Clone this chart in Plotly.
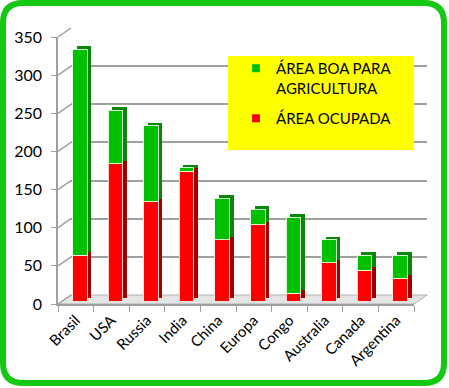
import plotly.graph_objects as go

categories = ["Brasil", "USA", "Russia", "India", "China", "Europa", "Congo", "Australia", "Canada", "Argentina"]
area_ocupada = [60, 180, 130, 170, 80, 100, 10, 50, 40, 30]
area_boa = [270, 70, 100, 5, 55, 20, 100, 30, 20, 30]
y_ticks = [0, 50, 100, 150, 200, 250, 300, 350]
Y_MAX = 350

W, H = 449, 388
FONT = "Lato"


def px(x):
    return x / W


def py(y):
    return 1 - y / H


# pixel frames (left, right, bottom, top)
back = (71, 427, 295, 28)      # back wall gridlines
front = (62, 418, 301, 34)     # front faces of bars
side = (66, 422, 298, 31)      # dark side/top faces
labels = (58, 414, 304, 37)    # front axis with labels


def dom(fr):
    return dict(x=[px(fr[0]), px(fr[1])], y=[py(fr[2]), py(fr[3])])


def yval(fr, v):
    return py(fr[2] - (fr[2] - fr[3]) * v / Y_MAX)


fig = go.Figure()

# subplot 1: back wall grid
fig.add_trace(go.Scatter(x=categories, y=[None] * len(categories), xaxis="x", yaxis="y",
                         showlegend=False, hoverinfo="skip"))
# subplot 2: dark side faces
fig.add_trace(go.Bar(x=categories, y=area_ocupada, xaxis="x2", yaxis="y2", marker_color="#a00000",
                     marker_line_width=0, showlegend=False, hoverinfo="skip"))
fig.add_trace(go.Bar(x=categories, y=area_boa, xaxis="x2", yaxis="y2", marker_color="#0b850b",
                     marker_line_width=0, showlegend=False, hoverinfo="skip"))
# subplot 3: front faces
fig.add_trace(go.Bar(x=categories, y=area_ocupada, xaxis="x3", yaxis="y3", marker_color="#ff0000",
                     marker_line=dict(color="rgba(255,230,230,0.9)", width=1), showlegend=False,
                     name="ÁREA OCUPADA"))
fig.add_trace(go.Bar(x=categories, y=area_boa, xaxis="x3", yaxis="y3", marker_color="#00c000",
                     marker_line=dict(color="rgba(230,255,230,0.9)", width=1), showlegend=False,
                     name="ÁREA BOA PARA AGRICULTURA"))
# subplot 4: label axis + legend entries
fig.add_trace(go.Scatter(x=categories, y=[None] * len(categories), xaxis="x4", yaxis="y4",
                         mode="markers", marker=dict(symbol="square", size=8, color="#00c000"),
                         name="ÁREA BOA PARA<br>AGRICULTURA", legendgroup="a", hoverinfo="skip"))
fig.add_trace(go.Scatter(x=categories, y=[None] * len(categories), xaxis="x4", yaxis="y4",
                         mode="markers", marker=dict(symbol="square", size=8, color="#ff0000"),
                         name="ÁREA OCUPADA", legendgroup="b", hoverinfo="skip"))

hidden_x = dict(type="category", categoryarray=categories, showgrid=False, showticklabels=False,
                zeroline=False, showline=False, ticks="", range=[-0.5, len(categories) - 0.5],
                automargin=False)

shapes = []
# border
x0, y0, x1, y1, r = 3, 3, 444, 383, 20
path = (f"M {px(x0 + r)},{py(y0)} L {px(x1 - r)},{py(y0)} Q {px(x1)},{py(y0)} {px(x1)},{py(y0 + r)} "
        f"L {px(x1)},{py(y1 - r)} Q {px(x1)},{py(y1)} {px(x1 - r)},{py(y1)} "
        f"L {px(x0 + r)},{py(y1)} Q {px(x0)},{py(y1)} {px(x0)},{py(y1 - r)} "
        f"L {px(x0)},{py(y0 + r)} Q {px(x0)},{py(y0)} {px(x0 + r)},{py(y0)} Z")
shapes.append(dict(type="path", xref="paper", yref="paper", path=path,
                   line=dict(color="#14c814", width=6), layer="above"))
# floor
floor = (f"M {px(labels[0])},{py(labels[2])} L {px(labels[1])},{py(labels[2])} "
         f"L {px(back[1])},{py(back[2])} L {px(back[0])},{py(back[2])} Z")
shapes.append(dict(type="path", xref="paper", yref="paper", path=floor,
                   fillcolor="#e4e4e4", line=dict(color="#b0b0b0", width=1), layer="below"))
# slanted connectors from front axis to back wall
for v in y_ticks:
    shapes.append(dict(type="line", xref="paper", yref="paper",
                       x0=px(labels[0]), y0=yval(labels, v), x1=px(back[0]), y1=yval(back, v),
                       line=dict(color="#a0a0a0", width=1.5), layer="below"))
# legend box
shapes.append(dict(type="rect", xref="paper", yref="paper", x0=px(228), x1=px(414), y0=py(150), y1=py(56),
                   fillcolor="#ffff00", line_width=0, layer="above"))

fig.update_layout(
    template="none",
    width=W, height=H, autosize=False,
    margin=dict(l=0, r=0, t=0, b=0, pad=0, autoexpand=False),
    paper_bgcolor="white", plot_bgcolor="rgba(0,0,0,0)",
    barmode="stack", bargap=0.59,
    font=dict(family=FONT, color="black"),
    xaxis=dict(domain=dom(back)["x"], **hidden_x),
    yaxis=dict(domain=dom(back)["y"], range=[0, Y_MAX], tickvals=y_ticks, showgrid=True,
               gridcolor="#a0a0a0", gridwidth=1.5, showticklabels=False, zeroline=False, ticks="",
               showline=False, automargin=False),
    xaxis2=dict(domain=dom(side)["x"], anchor="y2", **hidden_x),
    yaxis2=dict(domain=dom(side)["y"], anchor="x2", range=[0, Y_MAX], showgrid=False,
                showticklabels=False, zeroline=False, ticks="", showline=False, automargin=False),
    xaxis3=dict(domain=dom(front)["x"], anchor="y3", **hidden_x),
    yaxis3=dict(domain=dom(front)["y"], anchor="x3", range=[0, Y_MAX], showgrid=False,
                showticklabels=False, zeroline=False, ticks="", showline=False, automargin=False),
    xaxis4=dict(domain=dom(labels)["x"], anchor="y4", type="category", categoryarray=categories,
                range=[-0.5, len(categories) - 0.5], showgrid=False, zeroline=False,
                showline=True, linecolor="#a0a0a0", linewidth=1.5,
                ticks="outside", tickson="boundaries", ticklen=6, tickcolor="#a0a0a0",
                tickangle=-45, tickfont=dict(size=15, family=FONT, color="black"), automargin=False),
    yaxis4=dict(domain=dom(labels)["y"], anchor="x4", range=[0, Y_MAX], tickvals=y_ticks,
                showgrid=False, zeroline=False, showline=True, linecolor="#a0a0a0", linewidth=1.5,
                ticks="outside", ticklen=5, tickcolor="#a0a0a0", ticklabelstandoff=6,
                tickfont=dict(size=16, family=FONT, color="black"), automargin=False),
    shapes=shapes,
    legend=dict(x=px(236), y=py(52), xanchor="left", yanchor="top", bgcolor="rgba(0,0,0,0)",
                font=dict(size=15, family=FONT, color="black"), traceorder="grouped",
                tracegroupgap=8, valign="top", itemwidth=30, borderwidth=0),
    showlegend=True,
)

fig.write_html("out.html", config={"displayModeBar": False},
               post_script="document.body.style.margin='0';")
